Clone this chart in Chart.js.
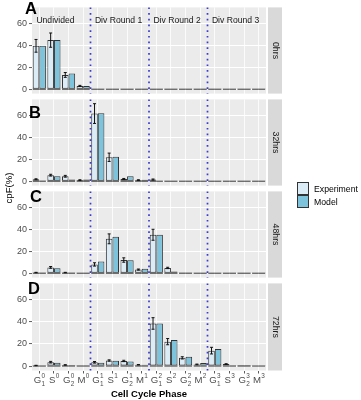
<!DOCTYPE html>
<html lang="en">
<head>
<meta charset="UTF-8">
<title>cpF by Cell Cycle Phase</title>
<script src="https://cdn.jsdelivr.net/npm/chart.js"></script>
<style>
  body { margin: 0; background: #fff; font-family: "Liberation Sans", Arial, sans-serif; }
  #wrap { position: relative; width: 361px; height: 400px; overflow: hidden; }
  #wrap canvas { position: absolute; left: 0; }
  .letter { position: absolute; font-weight: bold; font-size: 16.5px; line-height: 16px; color: #000; }
  .ytitle { position: absolute; left: 8px; top: 188px; font-size: 9.6px; color: #000; white-space: nowrap;
            transform: translate(-50%, -50%) rotate(-90deg); }
  .lgbox { position: absolute; left: 297px; width: 12px; height: 13px; box-sizing: border-box; border: 1px solid #333; }
  .lgtext { position: absolute; left: 314px; font-size: 8.7px; line-height: 12px; color: #000; }
</style>
</head>
<body>
<div id="wrap">
  <canvas id="panel0" width="285" height="101" style="top:0px"></canvas>
  <canvas id="panel1" width="285" height="101" style="top:92px"></canvas>
  <canvas id="panel2" width="285" height="101" style="top:184px"></canvas>
  <canvas id="panel3" width="285" height="124" style="top:276px"></canvas>

  <div class="letter" style="left:25px; top:0px">A</div>
  <div class="letter" style="left:29px; top:104px">B</div>
  <div class="letter" style="left:30px; top:188px">C</div>
  <div class="letter" style="left:28px; top:280px">D</div>

  <div class="ytitle">cpF(%)</div>

  <div class="lgbox" style="top:182px; background:#dbecf7"></div>
  <div class="lgbox" style="top:195px; background:#7cc3db"></div>
  <div class="lgtext" style="top:182.5px">Experiment</div>
  <div class="lgtext" style="top:196px">Model</div>
</div>

<script>
// categories: phase + subscript, superscript = division round
const categories = ['G1^0', 'S^0', 'G2^0', 'M^0', 'G1^1', 'S^1', 'G2^1', 'M^1',
                    'G1^2', 'S^2', 'G2^2', 'M^2', 'G1^3', 'S^3', 'G2^3', 'M^3'];
const timePoints = ['0hrs', '32hrs', '48hrs', '72hrs'];
const roundLabels = ['Undivided', 'Div Round 1', 'Div Round 2', 'Div Round 3'];
const yTicks = [0, 20, 40, 60];

const exp0hrs   = [39.5, 44.7, 13, 3, 0, 0, 0, 0, 0, 0, 0, 0, 0, 0, 0, 0];
const err0hrs   = [5.8, 6.5, 2.2, 0.5, 0, 0, 0, 0, 0, 0, 0, 0, 0, 0, 0, 0];
const model0hrs = [39.5, 44.8, 14.2, 3, 0, 0, 0, 0, 0, 0, 0, 0, 0, 0, 0, 0];

const exp32hrs   = [1.8, 5.5, 4.5, 1, 61.6, 21.8, 2, 1, 1.5, 0, 0, 0, 0, 0, 0, 0];
const err32hrs   = [0.4, 0.8, 0.8, 0.3, 9, 3.8, 0.5, 0.3, 0.5, 0, 0, 0, 0, 0, 0, 0];
const model32hrs = [0.6, 4.5, 1.5, 1.5, 61.9, 22.3, 4.6, 1.3, 0.4, 0, 0, 0, 0, 0, 0, 0];

const exp48hrs   = [0.6, 5.3, 0.6, 0, 8, 31.3, 12, 3.3, 35, 4.8, 0.2, 0, 0, 0, 0, 0];
const err48hrs   = [0.2, 0.8, 0.2, 0, 1.5, 4.5, 2, 0.5, 5, 0.6, 0, 0, 0, 0, 0, 0];
const model48hrs = [0.6, 4.5, 0.6, 0, 10.6, 33.3, 11.8, 4, 35, 1.5, 0.2, 0, 0, 0, 0, 0];

const exp72hrs   = [0.5, 3.5, 1, 0.2, 3.4, 5, 4.6, 1.2, 38.4, 22, 7.4, 1.5, 13.9, 1.8, 0.1, 0];
const err72hrs   = [0.2, 0.7, 0.2, 0, 0.7, 0.6, 0.6, 0.2, 5.2, 2.8, 1, 0.3, 3, 0.3, 0, 0];
const model72hrs = [0.5, 3, 1, 0.2, 3, 4.7, 4.1, 1.2, 38.4, 23.4, 8.3, 2.7, 15.4, 0.3, 0.1, 0];

const expSeries = [exp0hrs, exp32hrs, exp48hrs, exp72hrs];
const errSeries = [err0hrs, err32hrs, err48hrs, err72hrs];
const modelSeries = [model0hrs, model32hrs, model48hrs, model72hrs];

const FONT = "'Liberation Sans', Arial, sans-serif";
Chart.defaults.font.family = FONT;

// grey panel, error bars, dotted round dividers, facet strip, annotations
const panelDeco = {
  id: 'panelDeco',
  beforeDraw(chart) {
    const { ctx, chartArea: a } = chart;
    ctx.save();
    ctx.fillStyle = '#ebebeb';
    ctx.fillRect(a.left, a.top, a.width, a.height);
    ctx.restore();
  },
  afterDatasetsDraw(chart, args, opts) {
    const { ctx, chartArea: a, scales: { x, y } } = chart;
    const y0 = y.getPixelForValue(0);
    ctx.save();

    // bottom outline so empty bars still show as a line
    ctx.strokeStyle = '#333';
    ctx.lineWidth = 1;
    chart.data.datasets.forEach((ds, di) => {
      chart.getDatasetMeta(di).data.forEach(bar => {
        ctx.beginPath();
        ctx.moveTo(bar.x - bar.width / 2, y0);
        ctx.lineTo(bar.x + bar.width / 2, y0);
        ctx.stroke();
      });
    });

    // error bars on experiment
    const meta = chart.getDatasetMeta(0);
    const vals = chart.data.datasets[0].data;
    ctx.strokeStyle = '#111';
    ctx.lineWidth = 1;
    opts.errors.forEach((e, i) => {
      if (!e) return;
      const bx = meta.data[i].x;
      const hi = y.getPixelForValue(vals[i] + e);
      const lo = y.getPixelForValue(vals[i] - e);
      ctx.beginPath();
      ctx.moveTo(bx, hi); ctx.lineTo(bx, lo);
      ctx.moveTo(bx - 1.5, hi); ctx.lineTo(bx + 1.5, hi);
      ctx.moveTo(bx - 1.5, lo); ctx.lineTo(bx + 1.5, lo);
      ctx.stroke();
    });

    // dotted lines between division rounds
    ctx.strokeStyle = 'rgba(40,40,205,0.9)';
    ctx.lineWidth = 1.7;
    ctx.setLineDash([1.7, 4]);
    for (let r = 1; r < roundLabels.length; r++) {
      const px = x.getPixelForValue(r * 4 - 0.5);
      ctx.beginPath();
      ctx.moveTo(px, a.top);
      ctx.lineTo(px, a.bottom);
      ctx.stroke();
    }
    ctx.restore();
  },
  afterDraw(chart, args, opts) {
    const { ctx, chartArea: a, scales: { x, y } } = chart;
    ctx.save();

    // facet strip on the right
    const sx = a.right + 2;
    ctx.fillStyle = '#d9d9d9';
    ctx.fillRect(sx, a.top, 14, a.height);
    ctx.translate(sx + 7, (a.top + a.bottom) / 2);
    ctx.rotate(Math.PI / 2);
    ctx.fillStyle = '#1a1a1a';
    ctx.font = '8.8px ' + FONT;
    ctx.textAlign = 'center';
    ctx.textBaseline = 'middle';
    ctx.fillText(opts.strip, 0, 0);
    ctx.setTransform(1, 0, 0, 1, 0, 0);

    // round labels, top panel only
    if (opts.rounds) {
      ctx.fillStyle = '#1a1a1a';
      ctx.font = '8.6px ' + FONT;
      ctx.textAlign = 'left';
      ctx.textBaseline = 'middle';
      roundLabels.forEach((t, r) => {
        ctx.fillText(t, x.getPixelForValue(r * 4 - 0.2), y.getPixelForValue(62.5));
      });
    }

    // x tick labels with stacked sub/superscripts, bottom panel only
    if (opts.xLabels) {
      ctx.fillStyle = '#4d4d4d';
      ctx.textBaseline = 'alphabetic';
      ctx.textAlign = 'left';
      const base = a.bottom + 12.5;
      categories.forEach((lab, i) => {
        const m = lab.match(/^([A-Z])(\d?)\^(\d)$/);
        ctx.font = '9.6px ' + FONT;
        const bw = ctx.measureText(m[1]).width;
        ctx.font = '6.4px ' + FONT;
        const sw = Math.max(ctx.measureText(m[2]).width, ctx.measureText(m[3]).width);
        const x0 = x.getPixelForValue(i) - (bw + sw) / 2;
        ctx.font = '9.6px ' + FONT;
        ctx.fillText(m[1], x0, base);
        ctx.font = '6.4px ' + FONT;
        ctx.fillText(m[3], x0 + bw + 0.3, base - 5.3);
        if (m[2]) ctx.fillText(m[2], x0 + bw + 0.3, base + 2.6);
      });
    }
    ctx.restore();
  }
};

function makePanel(idx) {
  const bottom = idx === timePoints.length - 1;
  return new Chart(document.getElementById('panel' + idx), {
    type: 'bar',
    data: {
      labels: categories,
      datasets: [
        { label: 'Experiment', data: expSeries[idx], backgroundColor: '#dbecf7' },
        { label: 'Model', data: modelSeries[idx], backgroundColor: '#7cc3db' }
      ]
    },
    options: {
      responsive: false,
      animation: false,
      events: [],
      datasets: {
        bar: { categoryPercentage: 0.9, barPercentage: 1, borderColor: '#333', borderWidth: 1, borderSkipped: false }
      },
      layout: { padding: { top: 6.5, bottom: bottom ? 0 : 6.5, left: 0, right: 19 } },
      plugins: {
        legend: { display: false },
        tooltip: { enabled: false },
        panelDeco: { strip: timePoints[idx], errors: errSeries[idx], rounds: idx === 0, xLabels: bottom }
      },
      scales: {
        x: {
          offset: true,
          border: { display: false },
          grid: { offset: false, color: '#ffffff', lineWidth: 0.8, drawTicks: bottom, tickLength: 3, tickColor: '#333', tickWidth: 0.8 },
          ticks: { display: false },
          title: { display: bottom, text: 'Cell Cycle Phase', color: '#000', font: { size: 9.5, weight: 'bold' }, padding: { top: 0, bottom: 0 } },
          afterFit: s => { s.height = bottom ? 29.5 : 0; }
        },
        y: {
          min: -4,
          max: 74.5,
          border: { display: false },
          grid: {
            color: '#ffffff',
            lineWidth: c => (c.tick && c.tick.value % 20 === 0) ? 1.1 : 0.5,
            tickColor: c => (c.tick && c.tick.value % 20 === 0) ? '#333' : 'rgba(0,0,0,0)',
            tickLength: 3,
            tickWidth: 0.8
          },
          ticks: {
            stepSize: 10,
            includeBounds: false,
            padding: 2,
            color: '#4d4d4d',
            font: { size: 9 },
            callback: v => yTicks.includes(v) ? v : ''
          },
          afterFit: s => { s.width = 32; }
        }
      }
    },
    plugins: [panelDeco]
  });
}

timePoints.forEach((t, i) => makePanel(i));
</script>
</body>
</html>
